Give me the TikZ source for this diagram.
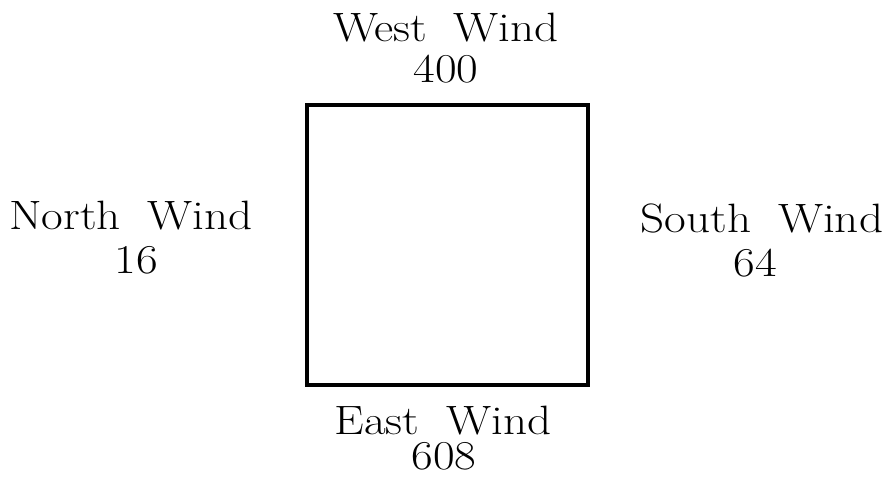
\documentclass[tikz,border=0pt]{standalone}
\usepackage{fontspec}
\setmainfont{Latin Modern Roman}[FakeStretch=1.15]
\begin{document}
\begin{tikzpicture}[x=1pt,y=-1pt,
  lbl/.style={anchor=base,inner sep=0pt,font=\fontsize{41}{44}\selectfont},
  frame/.style={line width=4.5pt,line join=miter}]
\useasboundingbox (0,0) rectangle (885,484);
\node[lbl] (westw) at (446,42) {West\hspace{0.65em}Wind};
\node[lbl] (westn) at (446,83) {400};
\node[lbl] (northw) at (131,229) {North\hspace{0.65em}Wind};
\node[lbl] (northn) at (136,273) {16};
\node[lbl] (southw) at (762,232) {South\hspace{0.65em}Wind};
\node[lbl] (southn) at (755,276) {64};
\node[lbl] (eastw) at (443,434) {East\hspace{0.65em}Wind};
\node[lbl] (eastn) at (444,469) {608};
\coordinate (tl) at (307,105);
\coordinate (br) at (588,385);
\draw[frame] (tl) rectangle (br);
\end{tikzpicture}
\end{document}
